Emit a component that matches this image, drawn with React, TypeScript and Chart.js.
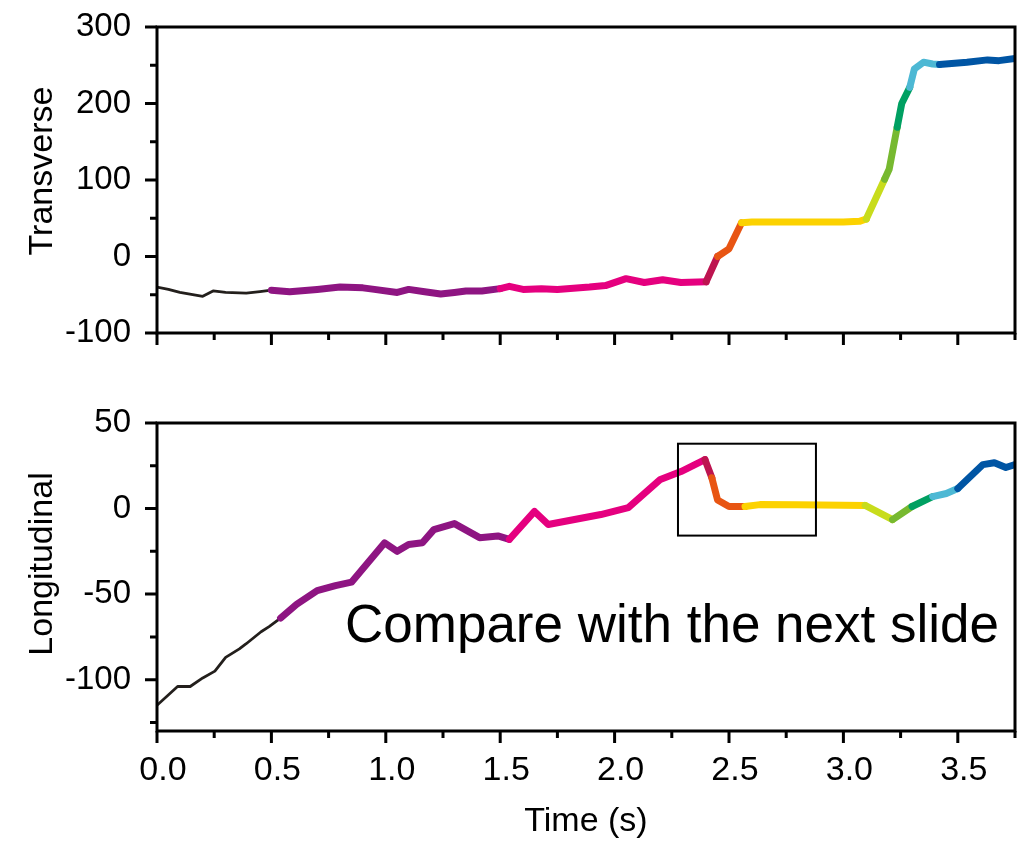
import React, { useEffect, useRef } from 'react';
import { Chart, registerables } from 'chart.js';

Chart.register(...registerables);

// ---------- data ----------
const transverseTime = [
  0.0, 0.05, 0.1, 0.2, 0.245, 0.3, 0.39, 0.45, 0.5, 0.58, 0.7, 0.8, 0.9, 0.95, 1.05, 1.1, 1.17, 1.24,
  1.3, 1.35, 1.42, 1.5, 1.54, 1.6, 1.68, 1.75, 1.89, 1.96, 2.05, 2.13, 2.21, 2.29, 2.4, 2.45, 2.5,
  2.555, 2.6, 2.8, 3.0, 3.07, 3.1, 3.18, 3.2, 3.235, 3.255, 3.29, 3.31, 3.35, 3.39, 3.42, 3.54, 3.63,
  3.68, 3.75,
];
const transverseValue = [
  -40, -43, -47, -52, -45, -47, -48, -46, -44, -46, -43, -40, -41, -43, -47, -43, -46, -49,
  -47, -45, -45, -42, -39, -43, -42, -43, -40, -38, -29, -34, -30.5, -34, -33, 0, 10,
  44, 45, 45, 45, 46, 49, 101, 114, 169, 200, 221, 245, 254, 251.6, 251, 254, 257,
  256, 259,
];

const longitudinalTime = [
  0.0, 0.09, 0.145, 0.2, 0.253, 0.3, 0.36, 0.39, 0.455, 0.49, 0.54, 0.61, 0.7, 0.78, 0.85, 0.995,
  1.05, 1.1, 1.16, 1.21, 1.3, 1.41, 1.49, 1.54, 1.65, 1.71, 1.94, 2.06, 2.2, 2.29, 2.395, 2.425,
  2.45, 2.5, 2.57, 2.635, 2.8, 3.0, 3.095, 3.215, 3.3, 3.39, 3.45, 3.5, 3.61, 3.66, 3.71, 3.75,
];
const longitudinalValue = [
  -115, -104, -104, -99, -95, -87, -82, -79, -72, -69, -64, -56, -48, -45, -43, -20,
  -25, -21, -20, -12.3, -8.8, -17, -16, -18, -1.7, -9.3, -3.5, 0.5, 17, 21.6, 28.6, 18,
  5, 1.2, 1.2, 2.3, 2.2, 2, 1.8, -6.5, 1.2, 7, 8.8, 11.7, 25.7, 26.8, 24, 25.7,
];

const phaseColors = [
  '#231f1c', '#8e1582', '#e5007f', '#bd1450', '#e85513', '#fcd200',
  '#c8dc1c', '#77b930', '#00a062', '#4db8d4', '#0055a4',
];
const transverseBreaks = [0.5, 1.5, 2.4, 2.45, 2.555, 3.1, 3.18, 3.235, 3.29, 3.42];
const longitudinalBreaks = [0.54, 1.54, 2.395, 2.425, 2.57, 3.095, 3.215, 3.3, 3.39, 3.5];

const timeTicks = [0, 0.5, 1.0, 1.5, 2.0, 2.5, 3.0, 3.5];
const transverseTicks = [-100, 0, 100, 200, 300];
const longitudinalTicks = [-100, -50, 0, 50];

const boxTime = [2.277, 2.88];
const boxValue = [-15.8, 37.9];

const noteText = 'Compare with the next slide';
const FONT = '"Liberation Sans", Arial, Helvetica, sans-serif';

// ---------- helpers ----------
function phaseIndex(t: number, breaks: number[]) {
  let i = 0;
  for (const b of breaks) if (t >= b - 1e-6) i++;
  return i;
}

function framePlugin(cfg: any) {
  return {
    id: 'frame',
    afterDraw(chart: any) {
      const { ctx, chartArea: a, scales } = chart;
      const xs = scales.x;
      const ys = scales.y;
      ctx.save();
      ctx.strokeStyle = '#000';
      ctx.lineWidth = 3;
      ctx.strokeRect(a.left, a.top, a.right - a.left, a.bottom - a.top);

      ctx.beginPath();
      const xStep = timeTicks[1] - timeTicks[0];
      timeTicks.forEach((m) => {
        const px = xs.getPixelForValue(m);
        ctx.moveTo(px, a.bottom);
        ctx.lineTo(px, a.bottom + 12);
        const mn = m + xStep / 2;
        if (mn <= xs.max + 1e-9) {
          const pm = xs.getPixelForValue(mn);
          ctx.moveTo(pm, a.bottom);
          ctx.lineTo(pm, a.bottom + 7);
        }
      });
      const yt: number[] = cfg.yTicks;
      const yStep = yt[1] - yt[0];
      const minors = new Set<number>();
      yt.forEach((m) => {
        const py = ys.getPixelForValue(m);
        ctx.moveTo(a.left, py);
        ctx.lineTo(a.left - 12, py);
        [m - yStep / 2, m + yStep / 2].forEach((v) => {
          if (v >= ys.min - 1e-9 && v <= ys.max + 1e-9 && !yt.includes(v)) minors.add(v);
        });
      });
      minors.forEach((v) => {
        const py = ys.getPixelForValue(v);
        ctx.moveTo(a.left, py);
        ctx.lineTo(a.left - 7, py);
      });
      ctx.stroke();

      // y title
      ctx.save();
      ctx.fillStyle = '#000';
      ctx.font = `34px ${FONT}`;
      ctx.translate(52, cfg.titleY);
      ctx.rotate(-Math.PI / 2);
      ctx.textAlign = 'center';
      ctx.textBaseline = 'alphabetic';
      ctx.fillText(cfg.title, 0, 0);
      ctx.restore();

      if (cfg.note) {
        const x0 = xs.getPixelForValue(boxTime[0]);
        const x1 = xs.getPixelForValue(boxTime[1]);
        const y0 = ys.getPixelForValue(boxValue[1]);
        const y1 = ys.getPixelForValue(boxValue[0]);
        ctx.lineWidth = 2;
        ctx.strokeRect(x0, y0, x1 - x0, y1 - y0);
        ctx.fillStyle = '#000';
        ctx.font = `53px ${FONT}`;
        ctx.textAlign = 'left';
        ctx.textBaseline = 'alphabetic';
        ctx.fillText(noteText, 345, cfg.noteY);
      }
      ctx.restore();
    },
  };
}

function buildConfig(p: any) {
  const points = p.time.map((t: number, i: number) => ({ x: t, y: p.value[i] }));
  return {
    type: 'line',
    data: {
      datasets: [
        {
          data: points,
          pointRadius: 0,
          tension: 0,
          borderColor: phaseColors[0],
          borderWidth: 2.8,
          borderCapStyle: 'round',
          borderJoinStyle: 'round',
          segment: {
            borderColor: (ctx: any) => phaseColors[phaseIndex(ctx.p0.parsed.x, p.breaks)],
            borderWidth: (ctx: any) => (phaseIndex(ctx.p0.parsed.x, p.breaks) === 0 ? 2.8 : 7),
          },
        },
      ],
    },
    options: {
      responsive: false,
      animation: false,
      events: [],
      layout: { padding: { top: p.padTop, right: 2, left: 0, bottom: 0 } },
      plugins: { legend: { display: false }, tooltip: { enabled: false } },
      scales: {
        x: {
          type: 'linear',
          min: 0,
          max: 3.75,
          afterBuildTicks: (s: any) => {
            s.ticks = timeTicks.map((v) => ({ value: v }));
          },
          afterFit: (s: any) => {
            s.height = p.xHeight;
          },
          grid: { display: true, drawOnChartArea: false, drawTicks: true, tickLength: 12, color: 'rgba(0,0,0,0)' },
          border: { display: false },
          ticks: {
            display: p.showX,
            color: '#000',
            font: { family: FONT, size: 34 },
            padding: 7,
            labelOffset: 6,
            maxRotation: 0,
            autoSkip: false,
            callback: (v: any) => Number(v).toFixed(1),
          },
          title: {
            display: p.showX,
            text: 'Time (s)',
            color: '#000',
            font: { family: FONT, size: 34 },
            padding: { top: 0, bottom: 3 },
          },
        },
        y: {
          type: 'linear',
          min: p.yMin,
          max: p.yMax,
          afterBuildTicks: (s: any) => {
            s.ticks = p.yTicks.map((v: number) => ({ value: v }));
          },
          afterFit: (s: any) => {
            s.width = 157;
            s.paddingTop = 0;
            s.paddingBottom = 0;
          },
          grid: { display: true, drawOnChartArea: false, drawTicks: true, tickLength: 12, color: 'rgba(0,0,0,0)' },
          border: { display: false },
          ticks: {
            color: '#000',
            font: { family: FONT, size: 33 },
            padding: 14,
            autoSkip: false,
            callback: (v: any) => String(v),
          },
        },
      },
    },
    plugins: [framePlugin(p)],
  };
}

function Panel(props: { params: any; top: number; height: number }) {
  const ref = useRef<HTMLCanvasElement | null>(null);
  useEffect(() => {
    if (!ref.current) return;
    const chart = new Chart(ref.current, buildConfig(props.params) as any);
    return () => chart.destroy();
  }, []);
  return (
    <canvas
      ref={ref}
      width={1017}
      height={props.height}
      style={{ position: 'absolute', left: 0, top: props.top, width: 1017, height: props.height, display: 'block' }}
    />
  );
}

const topParams = {
  time: transverseTime,
  value: transverseValue,
  breaks: transverseBreaks,
  yMin: -100,
  yMax: 300,
  yTicks: transverseTicks,
  padTop: 27,
  xHeight: 27,
  showX: false,
  title: 'Transverse',
  titleY: 171,
  note: false,
  noteY: 0,
};

const bottomParams = {
  time: longitudinalTime,
  value: longitudinalValue,
  breaks: longitudinalBreaks,
  yMin: -130,
  yMax: 50,
  yTicks: longitudinalTicks,
  padTop: 43,
  xHeight: 114,
  showX: true,
  title: 'Longitudinal',
  titleY: 184,
  note: true,
  noteY: 262,
};

export default function App() {
  return (
    <div style={{ position: 'absolute', left: 0, top: 0, width: 1017, height: 845, background: '#fff', overflow: 'hidden' }}>
      <Panel params={topParams} top={0} height={360} />
      <Panel params={bottomParams} top={380} height={465} />
    </div>
  );
}
